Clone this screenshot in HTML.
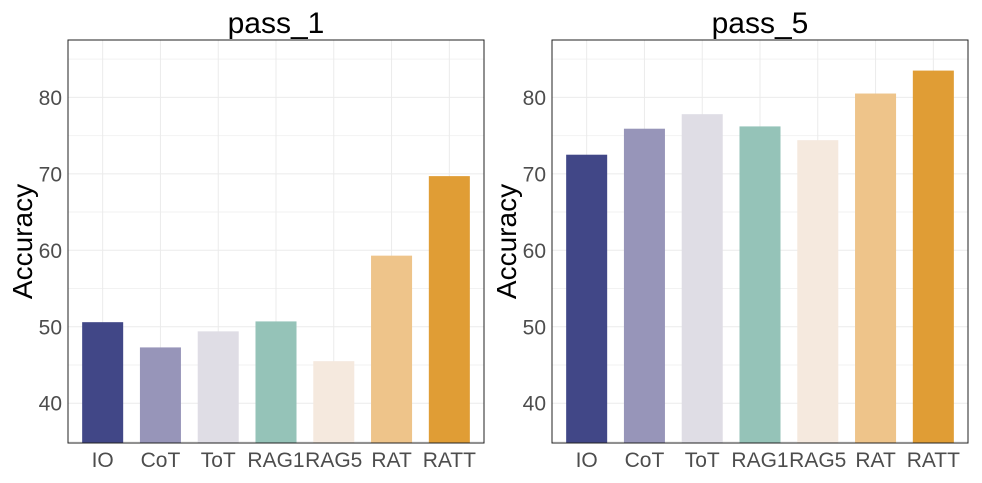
<!DOCTYPE html>
<html><head><meta charset="utf-8">
<style>
html,body{margin:0;padding:0;background:#fff;}
svg{display:block;font-family:"Liberation Sans",Arial,sans-serif;}
</style></head>
<body>
<svg id="chart" width="982" height="483"></svg>
<script>
const categories = ["IO","CoT","ToT","RAG1","RAG5","RAT","RATT"];
const pass1Values = [50.6,47.3,49.4,50.7,45.5,59.3,69.7];
const pass5Values = [72.5,75.9,77.8,76.2,74.4,80.5,83.5];
const yTicks = [40,50,60,70,80];
const panelTitles = ["pass_1","pass_5"];
const colors = ["#414787","#9795b9","#dfdde5","#95c3b8","#f5e9de","#eec48a","#e09d35"];

const NS="http://www.w3.org/2000/svg";
const svgEl=document.getElementById('chart');
function mk(tag,attrs,parent){const e=document.createElementNS(NS,tag);for(const k in attrs)e.setAttribute(k,attrs[k]);(parent||svgEl).appendChild(e);return e;}
const yMin=34.8,yMax=87.5,plotTop=40,plotBottom=443;
function yScale(v){return plotBottom-(v-yMin)/(yMax-yMin)*(plotBottom-plotTop);}

const panels=[{x0:68,x1:484,vals:pass1Values},{x0:552,x1:968,vals:pass5Values}];
panels.forEach((p,pi)=>{
  const g=mk('g',{});
  
  
  const w=p.x1-p.x0;
  const unit=w/(categories.length-1+1.2);
  const xScale=i=>p.x0+unit*(0.6+i);
  for(let i=-1;i<yTicks.length;i++){
    const v=(i<0?yTicks[0]-5:yTicks[i]+5);const y=yScale(v);
    if(y>plotTop&&y<plotBottom){
      const l=mk('line',{x1:p.x0,x2:p.x1,y1:y,y2:y,stroke:'#f2f2f2','stroke-width':1},g);
      
      
    }
  }
  yTicks.forEach(t=>{
    const y=yScale(t);
    const l=mk('line',{x1:p.x0,x2:p.x1,y1:y,y2:y,stroke:'#ebebeb','stroke-width':1},g);
    
    
    const tx=mk('text',{x:p.x0-6,y:y+7.5,'text-anchor':'end','font-size':21,fill:'#4d4d4d'},g);
    tx.textContent=t;
    
    
  });
  categories.forEach((c,i)=>{
    const cx=xScale(i);
    const vl=mk('line',{x1:cx,x2:cx,y1:plotTop,y2:plotBottom,stroke:'#ebebeb'},g);
    
    
  });
  categories.forEach((c,i)=>{
    const cx=xScale(i),bw=unit*0.71;
    const y=yScale(p.vals[i]);
    const r=mk('rect',{x:cx-bw/2,y:y,width:bw,height:plotBottom-y,fill:colors[i]},g);
    
    
    const tx=mk('text',{x:cx,y:plotBottom+24,'text-anchor':'middle','font-size':21,fill:'#4d4d4d'},g);
    tx.textContent=c;
    
    
  });
  const b=mk('rect',{x:p.x0,y:plotTop,width:w,height:plotBottom-plotTop,fill:'none',stroke:'#222','stroke-width':1},g);
  
  
  const t=mk('text',{x:(p.x0+p.x1)/2,y:33,'text-anchor':'middle','font-size':30,fill:'#000'},g);
  t.textContent=panelTitles[pi];
  
  
  const yl=mk('text',{x:0,y:0,'text-anchor':'middle','font-size':28,fill:'#000',transform:`translate(${p.x0-36},${(plotTop+plotBottom)/2}) rotate(-90)`},g);
  yl.textContent='Accuracy';
  
  
});
</script>
</body></html>
